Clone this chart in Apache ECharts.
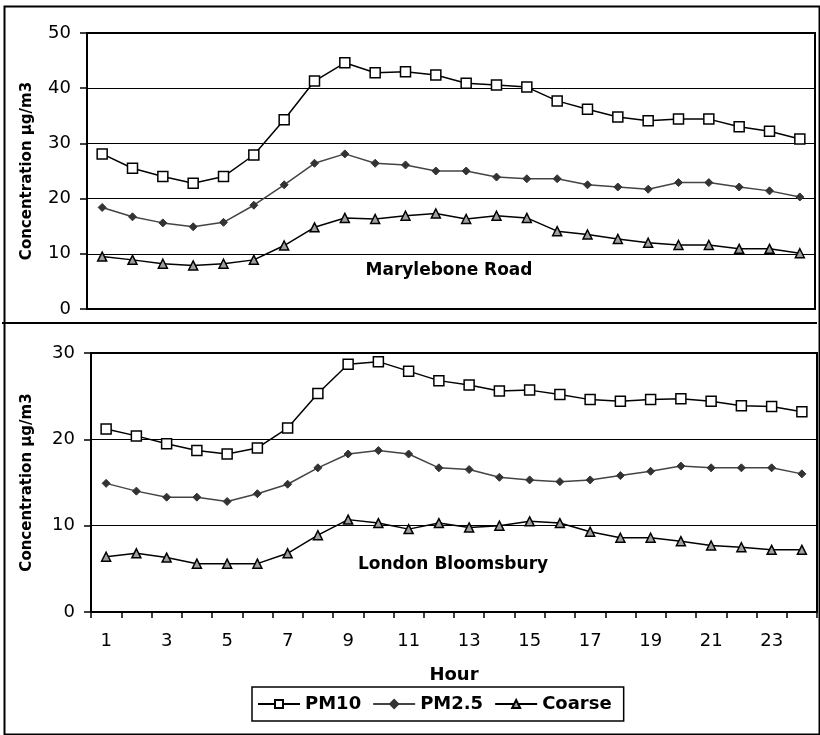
<!DOCTYPE html>
<html>
<head>
<meta charset="utf-8">
<script src="https://cdn.jsdelivr.net/npm/echarts@6/dist/echarts.min.js"></script>
<style>
  html, body { margin: 0; padding: 0; background: #fff; }
  #chartmain { width: 820px; height: 735px; }
</style>
</head>
<body>
<div id="chartmain"></div>
<script>
var hours = ['1','2','3','4','5','6','7','8','9','10','11','12','13','14','15','16','17','18','19','20','21','22','23','24'];

// Marylebone Road
var maryPM10 = [28.1, 25.5, 24.0, 22.8, 24.0, 27.9, 34.3, 41.3, 44.6, 42.8, 43.0, 42.4, 40.9, 40.6, 40.2, 37.7, 36.2, 34.8, 34.1, 34.4, 34.4, 33.0, 32.2, 30.8];
var maryPM25 = [18.4, 16.7, 15.6, 14.9, 15.7, 18.8, 22.5, 26.4, 28.1, 26.4, 26.1, 25.0, 25.0, 23.9, 23.6, 23.6, 22.5, 22.1, 21.7, 22.9, 22.9, 22.1, 21.4, 20.3];
var maryCoarse = [9.5, 8.9, 8.2, 7.9, 8.2, 8.9, 11.5, 14.8, 16.5, 16.3, 16.9, 17.3, 16.3, 16.9, 16.5, 14.1, 13.5, 12.7, 12.0, 11.6, 11.6, 10.9, 10.9, 10.1];

// London Bloomsbury
var bloomPM10 = [21.2, 20.4, 19.5, 18.7, 18.3, 19.0, 21.3, 25.3, 28.7, 29.0, 27.9, 26.8, 26.3, 25.6, 25.7, 25.2, 24.6, 24.4, 24.6, 24.7, 24.4, 23.9, 23.8, 23.2];
var bloomPM25 = [14.9, 14.0, 13.3, 13.3, 12.8, 13.7, 14.8, 16.7, 18.3, 18.7, 18.3, 16.7, 16.5, 15.6, 15.3, 15.1, 15.3, 15.8, 16.3, 16.9, 16.7, 16.7, 16.7, 16.0];
var bloomCoarse = [6.4, 6.8, 6.3, 5.6, 5.6, 5.6, 6.8, 8.9, 10.7, 10.3, 9.6, 10.3, 9.8, 10.0, 10.5, 10.3, 9.3, 8.6, 8.6, 8.2, 7.7, 7.5, 7.2, 7.2];

var yName = 'Concentration µg/m3';
var fontFam = '"DejaVu Sans", "Liberation Sans", Arial, sans-serif';

var myChart = echarts.init(document.getElementById('chartmain'));

function seriesSet(idx, pm10, pm25, coarse) {
    return [
        {
            name: 'PM10', type: 'line', xAxisIndex: idx, yAxisIndex: idx,
            data: pm10, symbol: 'rect', symbolSize: 10,
            lineStyle: { color: '#000', width: 1.5 },
            itemStyle: { color: '#fff', borderColor: '#000', borderWidth: 1.5 }
        },
        {
            name: 'PM2.5', type: 'line', xAxisIndex: idx, yAxisIndex: idx,
            data: pm25, symbol: 'diamond', symbolSize: 8,
            lineStyle: { color: '#444', width: 1.5 },
            itemStyle: { color: '#333', borderColor: '#333', borderWidth: 1 }
        },
        {
            name: 'Coarse', type: 'line', xAxisIndex: idx, yAxisIndex: idx,
            data: coarse, symbol: 'triangle', symbolSize: 9,
            lineStyle: { color: '#000', width: 1.5 },
            itemStyle: { color: '#a0a0a0', borderColor: '#000', borderWidth: 1.5 }
        }
    ];
}

var yAxisBase = {
    type: 'value',
    name: yName,
    nameLocation: 'middle',
    nameRotate: 90,
    nameTextStyle: { color: '#000', fontSize: 15, fontWeight: 'bold', fontFamily: fontFam },
    interval: 10,
    min: 0,
    axisLine: { show: true, lineStyle: { color: '#000', width: 2 } },
    axisTick: { show: true, length: 7, lineStyle: { color: '#000', width: 1.5 } },
    axisLabel: { color: '#000', fontSize: 18, fontFamily: fontFam, margin: 16 },
    splitLine: { lineStyle: { color: '#000', width: 1 } }
};

var option = {
    animation: false,
    backgroundColor: '#fff',
    grid: [
        { left: 87, top: 33, right: 5, height: 276, show: true, borderColor: '#000', borderWidth: 2 },
        { left: 91, top: 353, right: 3, height: 259, show: true, borderColor: '#000', borderWidth: 2 }
    ],
    xAxis: [
        {
            type: 'category', gridIndex: 0, data: hours,
            axisLine: { lineStyle: { color: '#000', width: 2 } },
            axisTick: { show: false }, axisLabel: { show: false }
        },
        {
            type: 'category', gridIndex: 1, data: hours,
            name: 'Hour', nameLocation: 'middle', nameGap: 54,
            nameTextStyle: { color: '#000', fontSize: 18, fontWeight: 'bold', fontFamily: fontFam },
            axisLine: { lineStyle: { color: '#000', width: 2 } },
            axisTick: { show: true, length: 6, interval: 0, lineStyle: { color: '#000', width: 1.5 } },
            axisLabel: { color: '#000', fontSize: 18, fontFamily: fontFam, interval: 1, margin: 20 }
        }
    ],
    yAxis: [
        Object.assign({}, yAxisBase, { gridIndex: 0, max: 50, nameGap: 52 }),
        Object.assign({}, yAxisBase, { gridIndex: 1, max: 30, nameGap: 56 })
    ],
    legend: {
        data: ['PM10', 'PM2.5', 'Coarse'],
        left: 252, top: 687,
        orient: 'horizontal',
        itemWidth: 42, itemHeight: 10, itemGap: 11,
        padding: [8, 12, 8, 5],
        borderColor: '#000', borderWidth: 1.5,
        textStyle: { color: '#000', fontSize: 18, fontWeight: 'bold', fontFamily: fontFam }
    },
    graphic: [
        { type: 'rect', left: 2, top: 4, shape: { width: 815, height: 728 }, style: { fill: null, stroke: '#000', lineWidth: 2 }, z: 100 },
        { type: 'line', shape: { x1: 2, y1: 323, x2: 817, y2: 323 }, style: { stroke: '#000', lineWidth: 2 }, z: 100 },
        { type: 'text', x: 449, y: 271, style: { text: 'Marylebone Road', align: 'center', verticalAlign: 'middle', fill: '#000', font: 'bold 17px ' + fontFam } },
        { type: 'text', x: 453, y: 565, style: { text: 'London Bloomsbury', align: 'center', verticalAlign: 'middle', fill: '#000', font: 'bold 17px ' + fontFam } }
    ],
    series: [].concat(
        seriesSet(0, maryPM10, maryPM25, maryCoarse),
        seriesSet(1, bloomPM10, bloomPM25, bloomCoarse)
    )
};
myChart.setOption(option);
</script>
</body>
</html>
